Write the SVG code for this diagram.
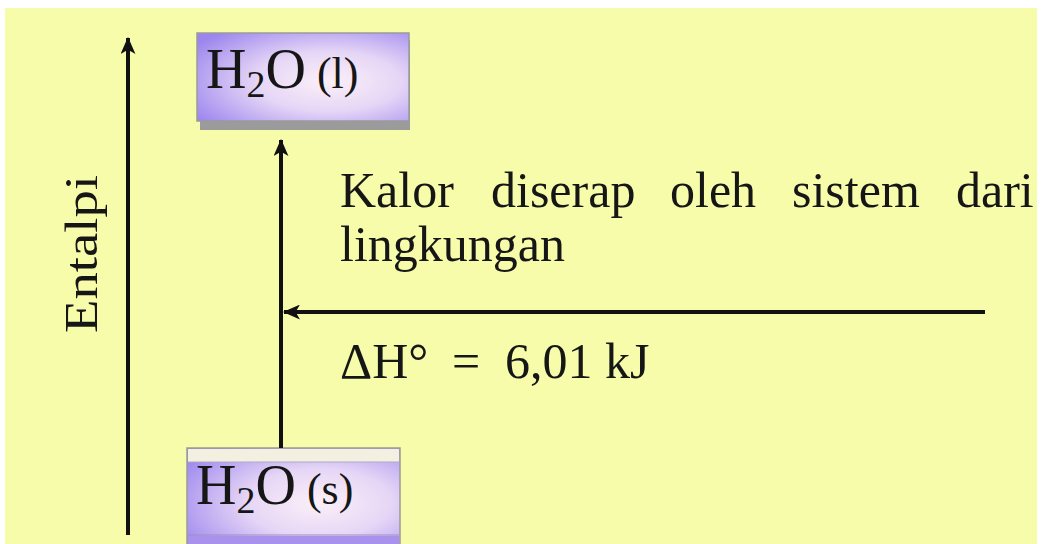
<svg xmlns="http://www.w3.org/2000/svg" width="1042" height="544" viewBox="0 0 1042 544">
  <style>
    .t { font-family: "Liberation Serif", "Times New Roman", serif; fill: #161616; }
    .line { stroke: #111; stroke-width: 4; fill: none; }
    .box { stroke: #9a9a9a; stroke-width: 1.5; }
  </style>
  <defs>
    <radialGradient id="g" cx="0.62" cy="0.55" r="0.75">
      <stop offset="0" stop-color="#fcf0f8"/>
      <stop offset="0.45" stop-color="#e6d6f6"/>
      <stop offset="1" stop-color="#9c86ee"/>
    </radialGradient>
    <marker id="ah" viewBox="0 0 16 14" refX="15" refY="7" markerWidth="17" markerHeight="15" markerUnits="userSpaceOnUse" orient="auto">
      <path d="M0,0 L16,7 L0,14 L4,7 Z" fill="#111"/>
    </marker>
  </defs>

  <rect x="0" y="0" width="1042" height="544" fill="#ffffff"/>
  <rect x="5" y="8" width="1032" height="536" fill="#f7fcaa"/>

  <g id="axis-label">
    <text class="t" font-size="46" textLength="158" lengthAdjust="spacingAndGlyphs" transform="translate(97,333) rotate(-90)">Entalpi</text>
  </g>

  <g id="node-h2o-l">
    <rect x="200" y="40" width="210" height="90" fill="#9b9b9b"/>
    <rect class="box" x="197" y="33" width="212" height="88" fill="url(#g)"/>
    <text class="t" x="206" y="88" font-size="56">H<tspan font-size="38" dy="9">2</tspan><tspan dy="-9">O</tspan><tspan font-size="44"> (l)</tspan></text>
  </g>

  <g id="node-h2o-s">
    <rect class="box" x="187" y="448" width="213" height="100" fill="url(#g)"/>
    <rect x="188" y="449" width="211" height="13" fill="#f3f0e2"/>
    <line x1="188" y1="462" x2="399" y2="462" stroke="#b0a8c8" stroke-width="1"/>
    <line x1="188" y1="535" x2="399" y2="535" stroke="#9a90c0" stroke-width="1"/>
    <rect x="188" y="536" width="211" height="8" fill="#a892ee"/>
    <text class="t" x="196" y="504" font-size="56">H<tspan font-size="38" dy="9">2</tspan><tspan dy="-9">O</tspan><tspan font-size="44"> (s)</tspan></text>
  </g>

  <g id="connectors">
    <line class="line" x1="128" y1="535" x2="128" y2="38" marker-end="url(#ah)"/>
    <line class="line" x1="281" y1="448" x2="281" y2="140" marker-end="url(#ah)"/>
    <line class="line" x1="985" y1="312" x2="284" y2="312" marker-end="url(#ah)"/>
  </g>

  <g id="labels">
    <text class="t" y="207" font-size="50"><tspan x="340">Kalor</tspan><tspan x="491">diserap</tspan><tspan x="670">oleh</tspan><tspan x="792">sistem</tspan><tspan x="956">dari</tspan></text>
    <text class="t" x="340" y="261" font-size="50">lingkungan</text>
    <text class="t" y="378" font-size="50"><tspan x="340">ΔH°</tspan><tspan x="452">=</tspan><tspan x="505">6,01 kJ</tspan></text>
  </g>
</svg>
